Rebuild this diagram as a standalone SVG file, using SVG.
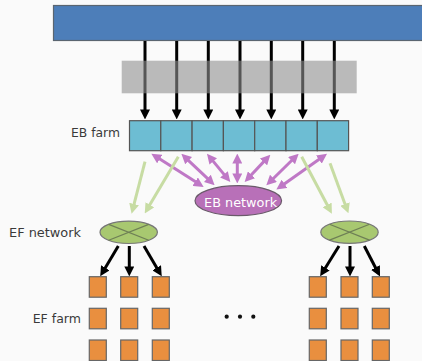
<svg xmlns="http://www.w3.org/2000/svg" width="422" height="361" viewBox="0 0 422 361">
<defs>
<style>
.lbl{font-family:"DejaVu Sans","Liberation Sans",sans-serif;font-size:12.5px;fill:#3a3a3a}
.eb{fill:#6dbdd3;stroke:#555;stroke-width:1.2}
.ef{fill:#e98f3f;stroke:#666;stroke-width:1.2}
.blk{stroke:#000;stroke-width:3;fill:none;marker-end:url(#ah)}
.pur{stroke:#bf78c6;stroke-width:3;fill:none;marker-end:url(#ap);marker-start:url(#ap)}
.grn{stroke:#c7dca3;stroke-width:3;fill:none;marker-end:url(#ag)}
.efn{fill:#a8c870;stroke:#777;stroke-width:1.2}
.x{stroke:#6e7f55;stroke-width:1.2}
</style>
<marker id="ah" markerUnits="userSpaceOnUse" markerWidth="10" markerHeight="10" viewBox="0 0 9 9" refX="5" refY="4.5" orient="auto"><path d="M0,0 L9,4.5 L0,9 z" fill="#000"/></marker>
<marker id="ap" markerUnits="userSpaceOnUse" markerWidth="10" markerHeight="10" viewBox="0 0 9 9" refX="5" refY="4.5" orient="auto-start-reverse"><path d="M0,0 L9,4.5 L0,9 z" fill="#bf78c6"/></marker>
<marker id="ag" markerUnits="userSpaceOnUse" markerWidth="10" markerHeight="10" viewBox="0 0 9 9" refX="5" refY="4.5" orient="auto"><path d="M0,0 L9,4.5 L0,9 z" fill="#c7dca3"/></marker>
</defs>
<rect width="422" height="361" fill="#fafafa"/>
<g id="top-bar"><rect x="53.5" y="5.5" width="372" height="35" fill="#4d7eb9" stroke="#5a6570" stroke-width="1.2"/></g>
<g id="connectors">
<line class="blk" x1="145" y1="41" x2="145" y2="115"/>
<line class="blk" x1="176.7" y1="41" x2="176.7" y2="115"/>
<line class="blk" x1="208.3" y1="41" x2="208.3" y2="115"/>
<line class="blk" x1="240" y1="41" x2="240" y2="115"/>
<line class="blk" x1="271.3" y1="41" x2="271.3" y2="115"/>
<line class="blk" x1="302.7" y1="41" x2="302.7" y2="115"/>
<line class="blk" x1="334.3" y1="41" x2="334.3" y2="115"/>
<line class="pur" x1="155.1" y1="156.1" x2="199.9" y2="184.6"/>
<line class="pur" x1="184.6" y1="156.8" x2="211.4" y2="182.2"/>
<line class="pur" x1="209.8" y1="157.1" x2="227.5" y2="178.6"/>
<line class="pur" x1="237.3" y1="158" x2="237.3" y2="179"/>
<line class="pur" x1="267.3" y1="157.9" x2="247.7" y2="178.8"/>
<line class="pur" x1="295.5" y1="156.8" x2="269.5" y2="182.2"/>
<line class="pur" x1="323.4" y1="156.3" x2="280" y2="187"/>
<line class="grn" x1="145" y1="161.7" x2="132.7" y2="209.4"/>
<line class="grn" x1="178.3" y1="156.7" x2="147" y2="209.6"/>
<line class="grn" x1="301.7" y1="156.7" x2="329.8" y2="209.8"/>
<line class="grn" x1="330" y1="163.3" x2="346.9" y2="209.2"/>
<line class="blk" x1="118.3" y1="246" x2="102.5" y2="272.5"/>
<line class="blk" x1="129.3" y1="246" x2="129.3" y2="272"/>
<line class="blk" x1="144" y1="246" x2="159.5" y2="272.5"/>
<line class="blk" x1="339" y1="246" x2="322.5" y2="272.5"/>
<line class="blk" x1="350" y1="246" x2="350" y2="272"/>
<line class="blk" x1="364.3" y1="246" x2="378" y2="272.5"/>
</g>
<g id="gray-bar"><rect x="121.7" y="60.7" width="235" height="32.6" fill="#8f8f8f" fill-opacity="0.6"/></g>
<g id="eb-farm">
<rect class="eb" x="129.5" y="120.7" width="31.3" height="30"/>
<rect class="eb" x="160.8" y="120.7" width="31.3" height="30"/>
<rect class="eb" x="192.1" y="120.7" width="31.3" height="30"/>
<rect class="eb" x="223.4" y="120.7" width="31.3" height="30"/>
<rect class="eb" x="254.7" y="120.7" width="31.3" height="30"/>
<rect class="eb" x="286" y="120.7" width="31.3" height="30"/>
<rect class="eb" x="317.3" y="120.7" width="31.3" height="30"/>
<text class="lbl" x="120" y="136.7" text-anchor="end" textLength="49" lengthAdjust="spacingAndGlyphs">EB farm</text>
</g>
<g id="eb-network">
<ellipse cx="238.3" cy="200.7" rx="43.3" ry="15" fill="#b870b8" stroke="#6a5a6a" stroke-width="1.2"/>
<text x="240.6" y="207.3" text-anchor="middle" font-family="DejaVu Sans,Liberation Sans,sans-serif" font-size="12.5" fill="#fff" textLength="73" lengthAdjust="spacingAndGlyphs">EB network</text>
</g>
<g id="ef-network-left">
<ellipse class="efn" cx="128.7" cy="232.3" rx="28.7" ry="11.2"/>
<line class="x" x1="108.7" y1="224.4" x2="148.7" y2="240.2"/>
<line class="x" x1="108.7" y1="240.2" x2="148.7" y2="224.4"/>
<text class="lbl" x="9" y="236.7" textLength="72" lengthAdjust="spacingAndGlyphs">EF network</text>
</g>
<g id="ef-network-right">
<ellipse class="efn" cx="349.5" cy="232.2" rx="28.7" ry="11.2"/>
<line class="x" x1="329.5" y1="224.3" x2="369.5" y2="240.1"/>
<line class="x" x1="329.5" y1="240.1" x2="369.5" y2="224.3"/>
</g>
<g id="ef-farm-left">
<rect class="ef" x="89.3" y="276.7" width="17" height="20.5"/>
<rect class="ef" x="120.7" y="276.7" width="17" height="20.5"/>
<rect class="ef" x="152.3" y="276.7" width="17" height="20.5"/>
<rect class="ef" x="89.3" y="308.3" width="17" height="20.5"/>
<rect class="ef" x="120.7" y="308.3" width="17" height="20.5"/>
<rect class="ef" x="152.3" y="308.3" width="17" height="20.5"/>
<rect class="ef" x="89.3" y="340" width="17" height="20.5"/>
<rect class="ef" x="120.7" y="340" width="17" height="20.5"/>
<rect class="ef" x="152.3" y="340" width="17" height="20.5"/>
<text class="lbl" x="81" y="323" text-anchor="end" textLength="48.3" lengthAdjust="spacingAndGlyphs">EF farm</text>
</g>
<g id="ef-farm-right">
<rect class="ef" x="309.3" y="276.7" width="17" height="20.5"/>
<rect class="ef" x="341" y="276.7" width="17" height="20.5"/>
<rect class="ef" x="372.3" y="276.7" width="17" height="20.5"/>
<rect class="ef" x="309.3" y="308.3" width="17" height="20.5"/>
<rect class="ef" x="341" y="308.3" width="17" height="20.5"/>
<rect class="ef" x="372.3" y="308.3" width="17" height="20.5"/>
<rect class="ef" x="309.3" y="340" width="17" height="20.5"/>
<rect class="ef" x="341" y="340" width="17" height="20.5"/>
<rect class="ef" x="372.3" y="340" width="17" height="20.5"/>
</g>
<g id="ellipsis">
<circle cx="226.7" cy="316.7" r="2.1" fill="#111"/>
<circle cx="240" cy="316.7" r="2.1" fill="#111"/>
<circle cx="253.3" cy="316.7" r="2.1" fill="#111"/>
</g>
</svg>
